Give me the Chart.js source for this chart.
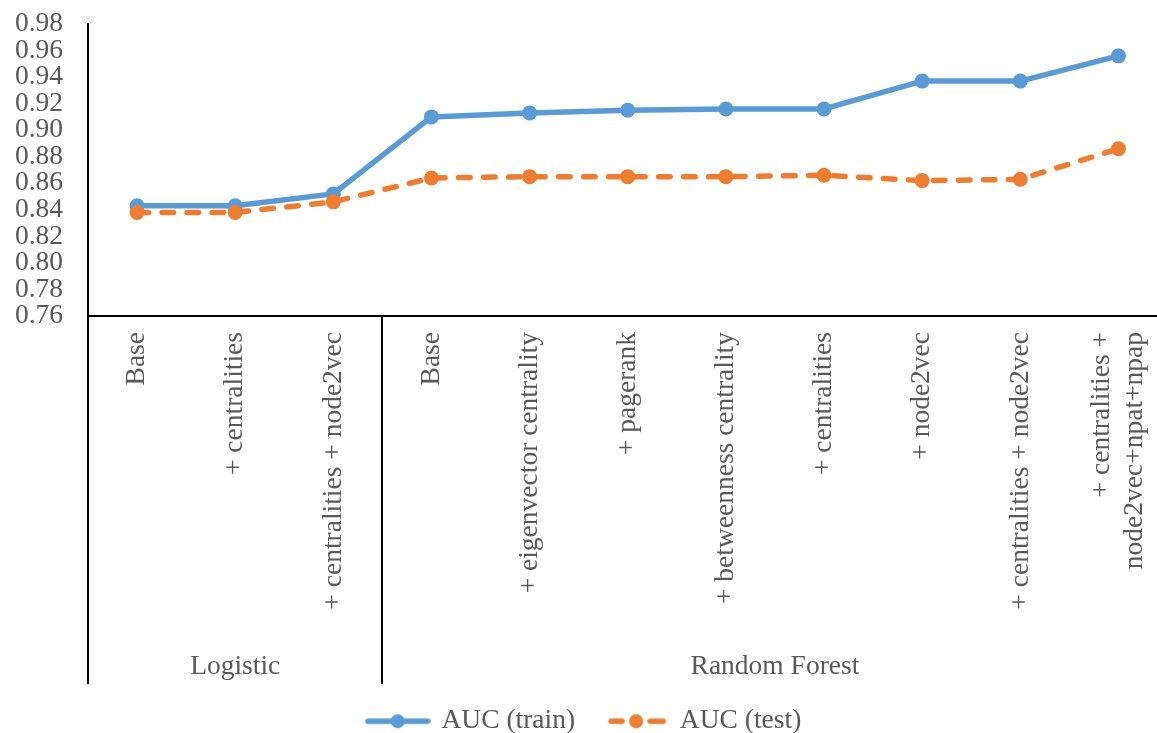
<!DOCTYPE html>
<html>
<head>
<meta charset="utf-8">
<script src="https://cdn.jsdelivr.net/npm/chart.js@4/dist/chart.umd.min.js"></script>
<style>
html,body{margin:0;padding:0;background:#fff;overflow:hidden;}
#wrap{width:1175px;height:745px;}
</style>
</head>
<body>
<div id="wrap"><canvas id="c" width="1175" height="745"></canvas></div>
<script>
const categories = ['Base', '+ centralities', '+ centralities + node2vec',
  'Base', '+ eigenvector centrality', '+ pagerank', '+ betweenness centrality',
  '+ centralities', '+ node2vec', '+ centralities + node2vec',
  ['+ centralities +', 'node2vec+npat+npap']];
const aucTrain = [0.843, 0.843, 0.852, 0.910, 0.913, 0.915, 0.916, 0.916, 0.937, 0.937, 0.956];
const aucTest  = [0.838, 0.838, 0.846, 0.864, 0.865, 0.865, 0.865, 0.866, 0.862, 0.863, 0.886];
const groupLabels = ['Logistic', 'Random Forest'];
const groupSizes = [3, 8];
const yMin = 0.76, yMax = 0.98, yStep = 0.02;

const BLUE = '#5B9BD5', ORANGE = '#ED7D31', TXT = '#595959';
const FONT = "'Liberation Serif', 'Times New Roman', serif";
const FS = 27.5;
const LW = 5.5;

function legendIcon(color, dashed) {
  const c = document.createElement('canvas');
  c.width = 66; c.height = 18;
  const g = c.getContext('2d');
  g.strokeStyle = color; g.fillStyle = color; g.lineWidth = LW; g.lineCap = 'round';
  if (!dashed) {
    g.beginPath(); g.moveTo(3, 9); g.lineTo(63, 9); g.stroke();
  } else {
    g.beginPath(); g.moveTo(8, 9); g.lineTo(19, 9); g.stroke();
    g.beginPath(); g.moveTo(47, 9); g.lineTo(60, 9); g.stroke();
  }
  g.beginPath(); g.arc(33, 9, 7, 0, Math.PI * 2); g.fill();
  return c;
}

const groupPlugin = {
  id: 'groups',
  beforeDraw(chart) {
    // centre multi-line rotated tick labels on their tick
    const x = chart.scales.x;
    const items = x.getLabelItems(chart.chartArea);
    items.forEach(it => {
      if (Array.isArray(it.label) && it.label.length > 1 && !it._centred) {
        const lh = x._resolveTickFontOptions(0).lineHeight;
        it.options.translation[0] -= (it.label.length - 1) * lh / 2;
        it._centred = true;
      }
    });
  },
  afterDraw(chart) {
    const x = chart.scales.x;
    const ctx = chart.ctx;
    ctx.save();
    ctx.strokeStyle = '#000';
    ctx.lineWidth = 2;
    const bottom = x.top + 368;
    let start = 0;
    const bounds = [];
    const half = (x.getPixelForValue(1) - x.getPixelForValue(0)) / 2;
    bounds.push(x.getPixelForValue(0) - half);
    groupSizes.forEach(s => { start += s; bounds.push(x.getPixelForValue(start - 1) + half); });
    bounds.forEach(b => {
      ctx.beginPath(); ctx.moveTo(Math.round(b), x.top); ctx.lineTo(Math.round(b), bottom); ctx.stroke();
    });
    ctx.fillStyle = TXT;
    ctx.font = FS + 'px ' + FONT;
    ctx.textAlign = 'center';
    ctx.textBaseline = 'middle';
    groupLabels.forEach((lab, i) => {
      const cx = (bounds[i] + bounds[i + 1]) / 2;
      ctx.fillText(lab, cx, x.top + 351);
    });
    ctx.restore();
  }
};

new Chart(document.getElementById('c'), {
  type: 'line',
  data: {
    labels: categories,
    datasets: [
      {
        label: 'AUC (train)', data: aucTrain, order: 1,
        borderColor: BLUE, backgroundColor: BLUE, borderWidth: LW,
        pointRadius: 7.5, pointHoverRadius: 7.5, pointBackgroundColor: BLUE, pointBorderWidth: 0,
        pointStyle: 'circle', tension: 0, borderCapStyle: 'round', borderJoinStyle: 'round'
      },
      {
        label: 'AUC (test)', data: aucTest, order: 0,
        borderColor: ORANGE, backgroundColor: ORANGE, borderWidth: LW, borderDash: [11.5, 13.5],
        pointRadius: 7.5, pointHoverRadius: 7.5, pointBackgroundColor: ORANGE, pointBorderWidth: 0,
        pointStyle: 'circle', tension: 0, borderCapStyle: 'round', borderJoinStyle: 'round'
      }
    ]
  },
  options: {
    responsive: false,
    animation: false,
    layout: { padding: { top: 24, right: 6, bottom: 0, left: 0 } },
    plugins: {
      tooltip: { enabled: false },
      legend: {
        position: 'bottom',
        labels: {
          color: TXT,
          font: { family: FONT, size: FS },
          usePointStyle: true,
          pointStyleWidth: 60,
          boxHeight: 18,
          padding: 31,
          sort: (a, b) => a.datasetIndex - b.datasetIndex,
          generateLabels: (chart) => chart.data.datasets.map((d, i) => ({
            text: d.label, datasetIndex: i, fontColor: TXT,
            pointStyle: legendIcon(d.borderColor, !!d.borderDash),
            fillStyle: d.borderColor, strokeStyle: d.borderColor, lineWidth: 0, hidden: false
          }))
        }
      }
    },
    scales: {
      x: {
        offset: true,
        grid: { display: false, offset: true },
        border: { display: true, color: '#000', width: 2 },
        ticks: {
          color: TXT, font: { family: FONT, size: FS }, minRotation: 90, maxRotation: 90,
          autoSkip: false, padding: 8
        },
        afterFit: (s) => { s.height = 360.5; s.paddingLeft = 0; s.paddingRight = 0; }
      },
      y: {
        min: yMin, max: yMax,
        grid: { display: false, drawTicks: false },
        border: { display: true, color: '#000', width: 2 },
        ticks: {
          stepSize: yStep, color: TXT, font: { family: FONT, size: FS }, padding: 25,
          autoSkip: false,
          callback: (v) => v.toFixed(2)
        },
        afterFit: (s) => { s.width = 88; s.paddingTop = 0; s.paddingBottom = 0; }
      }
    }
  },
  plugins: [groupPlugin]
});
</script>
</body>
</html>
